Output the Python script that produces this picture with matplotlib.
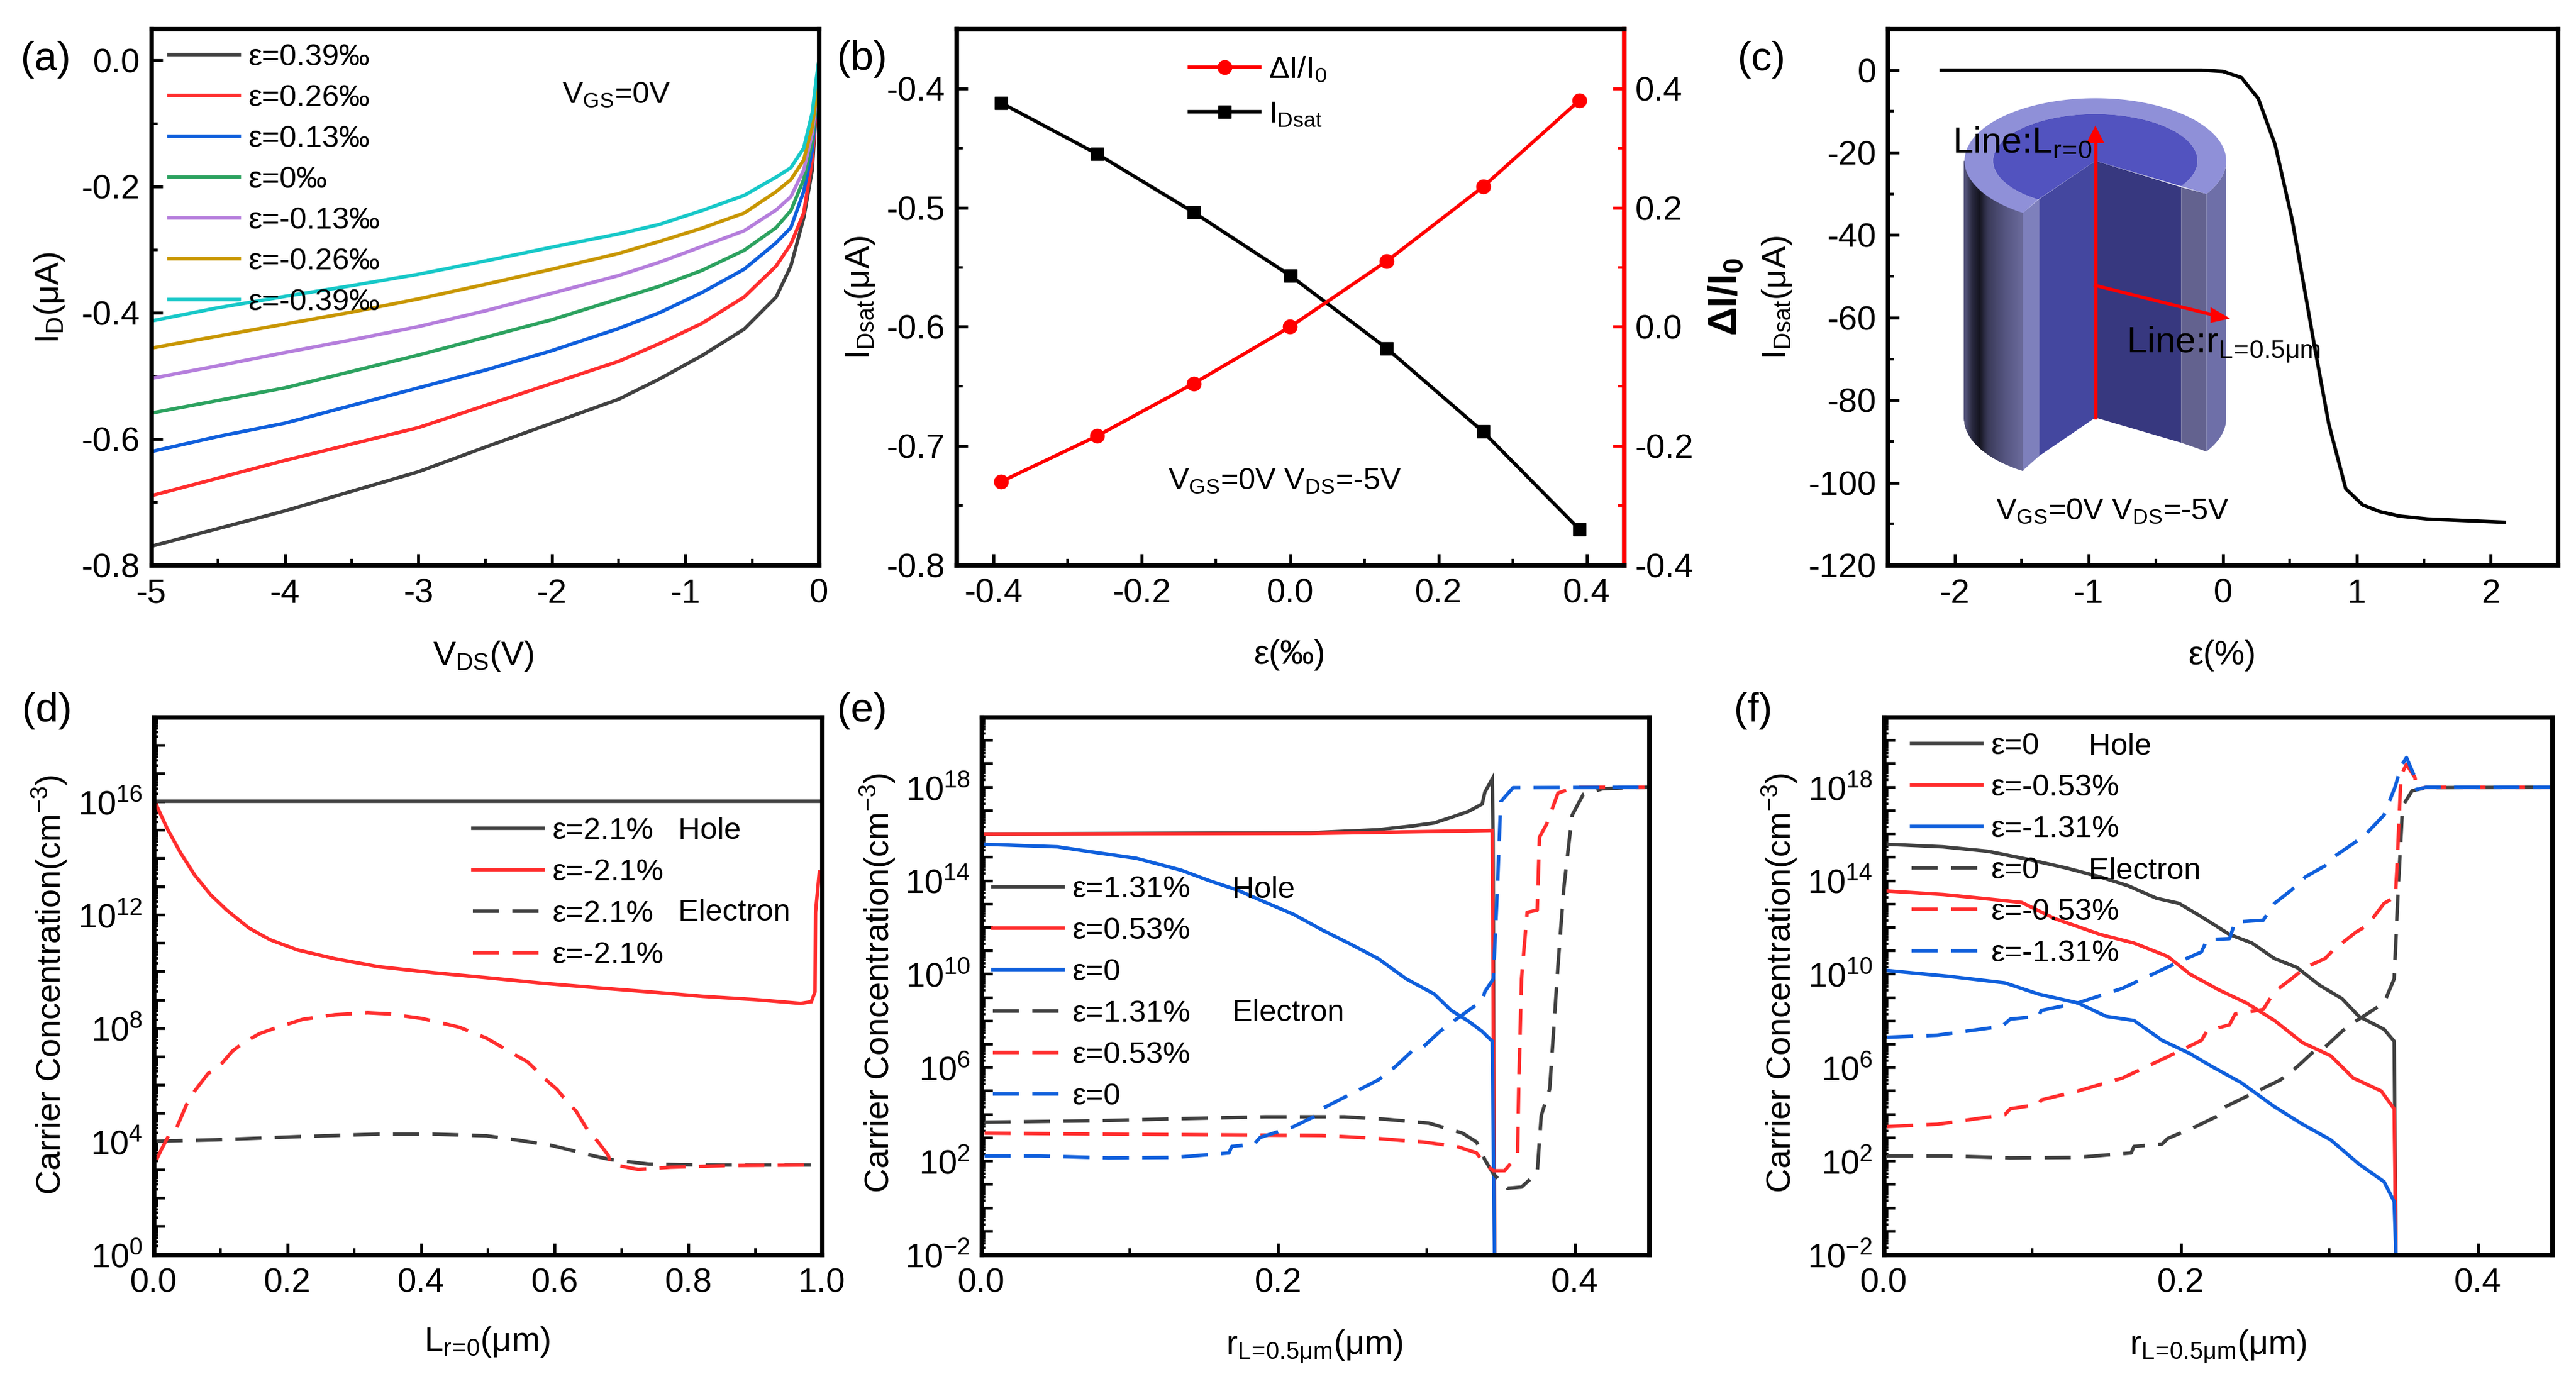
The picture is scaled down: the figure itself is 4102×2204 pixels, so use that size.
import numpy as np
import matplotlib
matplotlib.use('Agg')
import matplotlib.pyplot as plt
from matplotlib.lines import Line2D
from matplotlib.patches import Polygon
from matplotlib.ticker import MultipleLocator, FuncFormatter, NullFormatter, FixedLocator

plt.rcParams['font.family'] = ['Liberation Sans', 'DejaVu Sans']
plt.rcParams['mathtext.fontset'] = 'custom'
plt.rcParams['mathtext.rm'] = 'Liberation Sans'
plt.rcParams['mathtext.it'] = 'Liberation Sans'
plt.rcParams['mathtext.bf'] = 'Liberation Sans:bold'
plt.rcParams['mathtext.default'] = 'regular'

W, H = 4102, 2204
BLK, RED, BLU = '#404040', '#FF2D2D', '#0F5FDC'

# ---------- panel (a)
a_vds = [-5, -4.5, -4, -3.5, -3, -2.5, -2, -1.5, -1.195, -.877, -.56, -.32, -.21, -.114, -.05, -.02, 0]
a_curves = [
    ('ε=0.39‰', BLK, [-.77, -.742, -.714, -.683, -.652, -.613, -.575, -.537, -.505, -.468, -.426, -.375, -.326, -.25, -.174, -.078, 0]),
    ('ε=0.26‰', RED, [-.69, -.662, -.634, -.608, -.582, -.547, -.512, -.477, -.449, -.417, -.375, -.326, -.291, -.242, -.158, -.078, 0]),
    ('ε=0.13‰', BLU, [-.62, -.596, -.575, -.547, -.519, -.491, -.46, -.425, -.40, -.368, -.331, -.289, -.265, -.208, -.143, -.07, 0]),
    ('ε=0‰', '#2CA25F', [-.559, -.539, -.519, -.493, -.467, -.439, -.411, -.378, -.358, -.333, -.301, -.265, -.238, -.189, -.128, -.07, 0]),
    ('ε=-0.13‰', '#B57EDC', [-.504, -.484, -.463, -.443, -.422, -.397, -.369, -.341, -.32, -.295, -.27, -.237, -.216, -.174, -.116, -.065, 0]),
    ('ε=-0.26‰', '#C89600', [-.456, -.437, -.418, -.399, -.378, -.355, -.331, -.306, -.287, -.266, -.242, -.208, -.189, -.158, -.105, -.06, 0]),
    ('ε=-0.39‰', '#17C8C8', [-.413, -.392, -.374, -.357, -.339, -.318, -.296, -.275, -.26, -.238, -.214, -.185, -.17, -.139, -.083, -.03, 0]),
]

# ---------- panel (b)
b_strain = [-0.39, -0.26, -0.13, 0, 0.13, 0.26, 0.39]
b_idsat = [-.412, -.455, -.504, -.557, -.618, -.688, -.77]
b_ratio = [-.26, -.183, -.095, 0, .11, .235, .38]

# ---------- panel (c)
c_strain = [-2.1, -.366, -.156, 0, .139, .265, .391, .518, .623, .686, .792, .918, 1.044, 1.17, 1.318, 1.528, 2.1]
c_idsat = [0, 0, 0, -.3, -1.8, -6.9, -18.1, -36.3, -55.5, -67.2, -85.9, -101.5, -105.4, -107, -108.1, -108.8, -109.6]

# ---------- panel (d): exponents of the concentration
d_hole_p_x = [0.004, 0.5, 1.0]
d_hole_p_e = [16.02, 16.02, 16.02]
d_hole_n_x = [.004, .02, .04, .061, .085, .109, .142, .174, .215, .271, .336, .417, .498, .579, .66, .741, .822, .903, .968, .984, .9895, .9903, .996]
d_hole_n_e = [15.88, 15.06, 14.2, 13.42, 12.72, 12.18, 11.55, 11.13, 10.77, 10.46, 10.18, 9.97, 9.79, 9.6, 9.44, 9.29, 9.13, 9.01, 8.88, 8.94, 9.29, 12.1, 13.53]
d_el_p_x = [.004, .093, .215, .336, .417, .498, .547, .595, .628, .66, .684, .741, .822, .992]
d_el_p_e = [4.01, 4.06, 4.17, 4.26, 4.26, 4.2, 4.04, 3.86, 3.67, 3.48, 3.36, 3.2, 3.17, 3.17]
d_el_n_x = [.004, .012, .024, .032, .049, .061, .081, .097, .117, .134, .158, .182, .223, .271, .32, .352, .401, .457, .498, .538, .559, .591, .603, .619, .632, .652, .664, .68, .684, .725, .773, .862, .992]
d_el_n_e = [3.36, 3.75, 4.29, 4.37, 5.31, 5.78, 6.4, 6.63, 7.18, 7.49, 7.81, 8.01, 8.32, 8.48, 8.55, 8.51, 8.35, 8.04, 7.65, 7.1, 6.82, 6.09, 5.85, 5.39, 5.07, 4.29, 4.01, 3.51, 3.2, 3.01, 3.09, 3.15, 3.17]

# ---------- panel (e)
e_h131_x = [.002, .2218, .267, .29, .305, .3166, .328, .3375, .3393, .3443, .3448, .3458]
e_h131_e = [16.0, 16.05, 16.18, 16.34, 16.47, 16.71, 16.96, 17.28, 17.79, 18.36, 16.0, -2]
e_h053_x = [.002, .2218, .3443, .3458]
e_h053_e = [16.0, 16.02, 16.15, -2]
e_h0_x = [.002, .0512, .0777, .1043, .1346, .1536, .1725, .1915, .2104, .2294, .2483, .2673, .2863, .3052, .3166, .328, .3375, .3443, .3458]
e_h0_e = [15.56, 15.45, 15.2, 14.96, 14.45, 14.0, 13.6, 13.07, 12.56, 11.9, 11.3, 10.67, 9.8, 9.15, 8.45, 8.0, 7.55, 7.13, -2]
e_n131_x = [.002, .0777, .1346, .1915, .2446, .2711, .3014, .3242, .3337, .3393, .345, .3545, .364, .3746, .3773, .383, .3886, .3924, .3981, .4057, .419, .4493]
e_n131_e = [3.67, 3.73, 3.82, 3.9, 3.9, 3.8, 3.63, 3.2, 2.82, 2.06, 1.46, .84, .89, 1.5, 3.95, 5.09, 10.38, 13.6, 16.8, 17.7, 17.94, 18]
e_n053_x = [.002, .0777, .1725, .2294, .2673, .2976, .3204, .3337, .3393, .345, .3526, .3613, .3621, .364, .3678, .3746, .3761, .381, .3886, .4, .4493]
e_n053_e = [3.2, 3.16, 3.12, 3.1, 2.97, 2.82, 2.63, 2.35, 1.88, 1.59, 1.59, 2.25, 5.09, 9.8, 12.65, 12.74, 15.86, 16.43, 17.75, 18, 18]
e_n0_x = [.002, .0398, .0853, .1308, .1668, .1687, .1839, .1877, .2104, .2256, .2294, .2673, .2787, .29, .2976, .309, .3166, .3375, .3393, .345, .3477, .35, .3583, .4493]
e_n0_e = [2.22, 2.22, 2.14, 2.16, 2.35, 2.63, 2.73, 3.01, 3.48, 3.95, 4.24, 5.47, 6.03, 6.7, 6.88, 7.55, 7.92, 8.87, 9.25, 9.8, 13.6, 17.38, 17.98, 18]

# ---------- panel (f)
f_h0_x = [.002, .0397, .07, .0965, .123, .1457, .1646, .1835, .1987, .2138, .2327, .2479, .263, .2781, .2933, .3084, .3198, .3368, .3436, .3448]
f_h0_e = [15.56, 15.45, 15.26, 14.92, 14.54, 14.16, 13.78, 13.25, 13.03, 12.46, 11.7, 11.33, 10.67, 10.29, 9.53, 8.96, 8.2, 7.64, 7.13, -2]
f_h053_x = [.002, .0397, .07, .0927, .1154, .1457, .1684, .1911, .2062, .2252, .2441, .263, .2819, .3009, .316, .3349, .3436, .3448]
f_h053_e = [13.56, 13.41, 13.22, 13.07, 12.37, 11.7, 11.33, 10.76, 10, 9.34, 8.77, 8.02, 7.07, 6.51, 5.56, 5, 4.24, -2]
f_h131_x = [.002, .0435, .0814, .1041, .1306, .1495, .1684, .1873, .2062, .2214, .2403, .263, .2819, .3009, .3198, .3368, .3436, .3448]
f_h131_e = [10.16, 9.91, 9.63, 9.15, 8.77, 8.2, 8.02, 7.17, 6.6, 6.03, 5.37, 4.33, 3.58, 2.91, 1.88, 1.12, .27, -2]
f_n0_x = [.002, .0435, .0851, .1306, .1665, .1684, .1873, .1911, .21, .2252, .2271, .2668, .2781, .2895, .2971, .3084, .316, .3368, .3436, .3463, .3493, .3557, .3652, .4484]
f_n0_e = [2.22, 2.22, 2.14, 2.16, 2.35, 2.63, 2.73, 2.97, 3.48, 3.95, 4.24, 5.47, 6.03, 6.7, 6.88, 7.55, 7.92, 8.77, 9.8, 13.6, 17.19, 17.85, 17.98, 18]
f_n053_x = [.002, .036, .0814, .0851, .1041, .106, .1306, .1608, .1987, .2138, .2176, .2327, .2365, .2554, .263, .2744, .2838, .2971, .3027, .3179, .3254, .3368, .3444, .3455, .3482, .3519, .3576, .3588, .3652, .4484]
f_n053_e = [3.48, 3.58, 3.99, 4.24, 4.43, 4.62, 5, 5.56, 6.7, 7.17, 7.58, 7.83, 8.3, 8.49, 9.25, 9.8, 10.29, 10.67, 11.04, 11.8, 12.08, 13.03, 13.31, 14.54, 18.51, 18.98, 18.42, 17.9, 18, 18]
f_n131_x = [.002, .036, .0795, .0851, .1041, .106, .1306, .1608, .1987, .2138, .2176, .2327, .2365, .2554, .263, .2744, .2838, .2971, .3027, .3179, .3254, .3368, .3444, .3482, .3519, .3576, .3588, .3652, .4484]
f_n131_e = [7.3, 7.39, 7.77, 8.08, 8.2, 8.45, 8.77, 9.4, 10.53, 10.95, 11.48, 11.52, 12.23, 12.31, 13.03, 13.6, 14.16, 14.64, 15.01, 15.67, 16.05, 16.81, 18.04, 18.89, 19.27, 18.42, 17.9, 18, 18]

TICK_FS, LAB_FS, LEG_FS, TAG_FS = 39, 39, 35, 47
LW, DASH = 4.0, (7.5, 3.8)
SPINE = 5.2

fig = plt.figure(figsize=(W / 100, H / 100), dpi=100, facecolor='white')


def fx(x):
    return x / W


def fy(y):
    return 1 - y / H


def mkax(l, r, t, b):
    ax = fig.add_axes([fx(l), fy(b), (r - l) / W, (b - t) / H])
    for s in ax.spines.values():
        s.set_linewidth(SPINE)
    ax.tick_params(which='major', direction='in', length=13, width=3.4, labelsize=TICK_FS, pad=15)
    ax.tick_params(which='minor', direction='in', length=7, width=3)
    ax.tick_params(axis='y', pad=13)
    return ax


def ftext(x, y, s, **kw):
    kw.setdefault('fontsize', LAB_FS)
    kw.setdefault('ha', 'center')
    kw.setdefault('va', 'center')
    return fig.text(fx(x), fy(y), s, **kw)


def legend(ax, handles, labels, x, ytop, spacing, fs=LEG_FS, hl=112, pad=14):
    em = fs * 100 / 72
    leg = ax.legend(handles, labels, loc='upper left', bbox_to_anchor=(fx(x), fy(ytop)),
                    bbox_transform=fig.transFigure, frameon=False, fontsize=fs, borderpad=0,
                    borderaxespad=0, handlelength=hl / em, handletextpad=pad / em,
                    labelspacing=spacing)
    leg.set_zorder(20)
    return leg


def logaxis(ax, lo, hi, labelled):
    ax.set_yscale('log')
    ax.set_ylim(10.0 ** lo, 10.0 ** hi)
    ax.yaxis.set_major_locator(FixedLocator([10.0 ** k for k in range(lo, hi + 1)]))
    ax.yaxis.set_minor_locator(FixedLocator([m * 10.0 ** k for k in range(lo, hi) for m in (2, 3, 4, 5, 6, 7, 8, 9)]))
    ax.yaxis.set_minor_formatter(NullFormatter())
    ax.yaxis.set_major_formatter(FuncFormatter(
        lambda v, p: ('$10^{%d}$' % round(np.log10(v))) if round(np.log10(v)) in labelled else ''))
    ax.tick_params(axis='y', which='major', length=13, width=3.2)
    ax.tick_params(axis='y', which='minor', length=5, width=2.6)


def curve(ax, xs, es, color, dashed=False, label=None):
    ln, = ax.plot(xs, 10.0 ** np.array(es, float), color=color, lw=LW, label=label,
                  solid_joinstyle='miter')
    if dashed:
        ln.set_dashes(DASH)
    return ln


# ----- (a)
ax = mkax(241, 1304, 46, 900)
hs = []
for lab, col, vals in a_curves:
    hs.append(ax.plot(a_vds, vals, color=col, lw=LW, label=lab)[0])
ax.set_xlim(-5, 0)
ax.set_ylim(-0.8, 0.05)
ax.xaxis.set_major_locator(MultipleLocator(1))
ax.xaxis.set_minor_locator(MultipleLocator(.5))
ax.yaxis.set_major_locator(MultipleLocator(.2))
ax.yaxis.set_minor_locator(MultipleLocator(.1))
ax.xaxis.set_major_formatter(FuncFormatter(lambda v, p: '%d' % v))
ax.yaxis.set_major_formatter(FuncFormatter(lambda v, p: '%.1f' % v))
legend(ax, hs, [c[0] for c in a_curves], 269, 69, 0.41)
ftext(73, 95, '(a)', fontsize=TAG_FS)
ftext(79, 474, r'I$_{D}$(μA)', rotation=90)
ftext(770, 1045, r'V$_{DS}$(V)')
ftext(982, 151, r'V$_{GS}$=0V', fontsize=LEG_FS)

# ----- (b)
ax = mkax(1523, 2586, 46, 900)
ax.plot(b_strain, b_idsat, color='black', lw=LW, marker='s', ms=15)
ax.set_xlim(-.45, .45)
ax.set_ylim(-.8, -.35)
ax.xaxis.set_major_locator(MultipleLocator(.2))
ax.xaxis.set_minor_locator(MultipleLocator(.1))
ax.yaxis.set_major_locator(MultipleLocator(.1))
ax.yaxis.set_minor_locator(MultipleLocator(.05))
ax.xaxis.set_major_formatter(FuncFormatter(lambda v, p: '%.1f' % v))
ax.yaxis.set_major_formatter(FuncFormatter(lambda v, p: '%.1f' % v))
axr = ax.twinx()
axr.plot(b_strain, b_ratio, color='#FF0000', lw=LW, marker='o', ms=16)
axr.set_ylim(-.4, .5)
axr.yaxis.set_major_locator(FixedLocator([-.4, -.2, 0, .2, .4]))
axr.yaxis.set_minor_locator(MultipleLocator(.1))
axr.yaxis.set_major_formatter(FuncFormatter(lambda v, p: '%.1f' % v))
axr.tick_params(axis='y', which='major', direction='in', length=13, width=3.4, labelsize=TICK_FS, pad=13, color='#FF0000')
axr.tick_params(axis='y', which='minor', direction='in', length=7, width=3, color='#FF0000')
for n, s in axr.spines.items():
    s.set_linewidth(SPINE)
axr.spines['right'].set_color('#FF0000')
h1 = Line2D([], [], color='#FF0000', lw=LW, marker='o', ms=16)
h2 = Line2D([], [], color='black', lw=LW, marker='s', ms=15)
legend(axr, [h1, h2], [r'ΔI/I$_{0}$', r'I$_{Dsat}$'], 1894, 87, 0.54)
ftext(1373, 94, '(b)', fontsize=TAG_FS)
ftext(1370, 474, r'I$_{Dsat}$(μA)', rotation=90)
ftext(2053, 1043, 'ε(‰)')
ftext(2046, 766, r'V$_{GS}$=0V V$_{DS}$=-5V', fontsize=LEG_FS)
ftext(2749, 473, r'ΔI/I$_{0}$', rotation=90, fontweight='bold', fontsize=46)

# ----- (c)
ax = mkax(3006, 4073, 46, 900)
ax.plot(c_strain, c_idsat, color='black', lw=LW)
ax.set_xlim(-2.5, 2.5)
ax.set_ylim(-120, 10)
ax.xaxis.set_major_locator(MultipleLocator(1))
ax.xaxis.set_minor_locator(MultipleLocator(.5))
ax.yaxis.set_major_locator(MultipleLocator(20))
ax.yaxis.set_minor_locator(MultipleLocator(10))
ax.xaxis.set_major_formatter(FuncFormatter(lambda v, p: '%d' % v))
ax.yaxis.set_major_formatter(FuncFormatter(lambda v, p: '%d' % v))
ftext(2805, 95, '(c)', fontsize=TAG_FS)
ftext(2830, 474, r'I$_{Dsat}$(μA)', rotation=90)
ftext(3538, 1044, 'ε(%)')
ftext(3364, 814, r'V$_{GS}$=0V V$_{DS}$=-5V', fontsize=LEG_FS)

# cylinder sketch, in an overlay whose coordinates span the top right region
ov = fig.add_axes([fx(2700), fy(1100), 1402 / W, 1100 / H], facecolor='none', zorder=10)
ov.set_xlim(0, 1568)
ov.set_ylim(1568, 0)
ov.axis('off')
CX, CY, DROP = 712, 365, 585


def arc(rx, ry, t0, t1, n=120, dy=0):
    t = np.radians(np.linspace(t0, t1, n))
    return np.c_[CX + rx * np.cos(t), CY + ry * np.sin(t) + dy]


grad_x = [480, 492, 505, 520, 550, 583]
grad_c = [(.33, .33, .48), (.16, .16, .25), (.08, .08, .12), (.23, .23, .35), (.33, .33, .50), (.42, .42, .61)]
T0 = 123.6
edges = np.linspace(T0, 180, 60)
for t0, t1 in zip(edges[:-1], edges[1:]):
    top = arc(233, 142, t0, t1, 4)
    bot = arc(233, 142, t1, t0, 4, DROP)
    xm = (top[0, 0] + top[-1, 0]) / 2
    col = [np.interp(xm, grad_x, [c[i] for c in grad_c]) for i in range(3)]
    ov.add_patch(Polygon(np.r_[top, bot], closed=True, fc=col, ec=col, lw=1))
ov.add_patch(Polygon(np.r_[arc(233, 142, 0, 32), arc(233, 142, 32, 0, dy=DROP)], closed=True, fc='#6E6FA8', ec='none'))
ov.add_patch(Polygon([(583, 483), (612, 452), (612, 1035), (583, 1068)], closed=True, fc='#7E80BC', ec='none'))
ov.add_patch(Polygon([(612, 452), (712, 365), (712, 948), (612, 1035)], closed=True, fc='#44479F', ec='none'))
ov.add_patch(Polygon([(712, 365), (865, 425), (865, 1005), (712, 948)], closed=True, fc='#37387F', ec='none'))
ov.add_patch(Polygon([(865, 425), (909.6, 440), (909.6, 1025), (865, 1005)], closed=True, fc='#63628F', ec='none'))
ov.add_patch(Polygon(np.r_[arc(233, 142, T0, 392), arc(182, 106, 393, 124)], closed=True, fc='#8F90D8', ec='none'))
ov.add_patch(Polygon(np.r_[arc(182, 106, 124, 393), [(CX, CY)]], closed=True, fc='#5253BF', ec='none'))
ov.plot([712, 712], [948, 320], color='#FF0000', lw=3.8)
ov.add_patch(Polygon([(712, 285), (696, 325), (728, 325)], closed=True, fc='#FF0000', ec='none'))
ov.plot([712, 925], [648, 716], color='#FF0000', lw=3.8)
ov.add_patch(Polygon([(952, 723), (917, 697), (917, 733)], closed=True, fc='#FF0000', ec='none'))
ov.text(457, 325, r'Line:L$_{r\!=\!0}$', fontsize=42, ha='left', va='center', color='black')
ov.text(767, 782, r'Line:r$_{L\!=\!0.5μm}$', fontsize=42, ha='left', va='center', color='black')

# ----- (d)
ax = mkax(245, 1309, 1142, 1998)
logaxis(ax, 0, 19, {0, 4, 8, 12, 16})
hs = [curve(ax, d_hole_p_x, d_hole_p_e, BLK), curve(ax, d_hole_n_x, d_hole_n_e, RED),
      curve(ax, d_el_p_x, d_el_p_e, BLK, True), curve(ax, d_el_n_x, d_el_n_e, RED, True)]
ax.set_xlim(0, 1)
ax.xaxis.set_major_locator(MultipleLocator(.2))
ax.xaxis.set_minor_locator(MultipleLocator(.1))
ax.xaxis.set_major_formatter(FuncFormatter(lambda v, p: '%.1f' % v))
legend(ax, hs, ['ε=2.1%', 'ε=-2.1%', 'ε=2.1%', 'ε=-2.1%'], 753, 1301, 0.43)
ftext(1080, 1324, 'Hole', fontsize=LEG_FS, ha='left')
ftext(1080, 1454, 'Electron', fontsize=LEG_FS, ha='left')
ftext(75, 1132, '(d)', fontsize=TAG_FS)
ftext(79, 1568, r'Carrier Concentration(cm$^{-3}$)', rotation=90)
ftext(775, 2137, r'L$_{r\!=\!0}$(μm)')

# ----- (e)
ax = mkax(1563, 2626, 1142, 1998)
logaxis(ax, -2, 21, {-2, 2, 6, 10, 14, 18})
hs = [curve(ax, e_h131_x, e_h131_e, BLK), curve(ax, e_h053_x, e_h053_e, RED), curve(ax, e_h0_x, e_h0_e, BLU),
      curve(ax, e_n131_x, e_n131_e, BLK, True), curve(ax, e_n053_x, e_n053_e, RED, True), curve(ax, e_n0_x, e_n0_e, BLU, True)]
ax.set_xlim(0, .45)
ax.xaxis.set_major_locator(MultipleLocator(.2))
ax.xaxis.set_minor_locator(MultipleLocator(.1))
ax.xaxis.set_major_formatter(FuncFormatter(lambda v, p: '%.1f' % v))
legend(ax, hs, ['ε=1.31%', 'ε=0.53%', 'ε=0', 'ε=1.31%', 'ε=0.53%', 'ε=0'], 1581, 1394, 0.43)
ftext(1962, 1417, 'Hole', fontsize=LEG_FS, ha='left')
ftext(1962, 1614, 'Electron', fontsize=LEG_FS, ha='left')
ftext(1373, 1132, '(e)', fontsize=TAG_FS)
ftext(1398, 1565, r'Carrier Concentration(cm$^{-3}$)', rotation=90)
ftext(2093, 2144, r'r$_{L\!=\!0.5μm}$(μm)')

# ----- (f)
ax = mkax(3000, 4064, 1142, 1998)
logaxis(ax, -2, 21, {-2, 2, 6, 10, 14, 18})
hs = [curve(ax, f_h0_x, f_h0_e, BLK), curve(ax, f_h053_x, f_h053_e, RED), curve(ax, f_h131_x, f_h131_e, BLU),
      curve(ax, f_n0_x, f_n0_e, BLK, True), curve(ax, f_n053_x, f_n053_e, RED, True), curve(ax, f_n131_x, f_n131_e, BLU, True)]
ax.set_xlim(0, .45)
ax.xaxis.set_major_locator(MultipleLocator(.2))
ax.xaxis.set_minor_locator(MultipleLocator(.1))
ax.xaxis.set_major_formatter(FuncFormatter(lambda v, p: '%.1f' % v))
legend(ax, hs, ['ε=0', 'ε=-0.53%', 'ε=-1.31%', 'ε=0', 'ε=-0.53%', 'ε=-1.31%'], 3044, 1166, 0.43)
ftext(3326, 1189, 'Hole', fontsize=LEG_FS, ha='left')
ftext(3326, 1387, 'Electron', fontsize=LEG_FS, ha='left')
ftext(2792, 1132, '(f)', fontsize=TAG_FS)
ftext(2834, 1565, r'Carrier Concentration(cm$^{-3}$)', rotation=90)
ftext(3532, 2144, r'r$_{L\!=\!0.5μm}$(μm)')

fig.savefig('out.png', dpi=100, facecolor='white')
